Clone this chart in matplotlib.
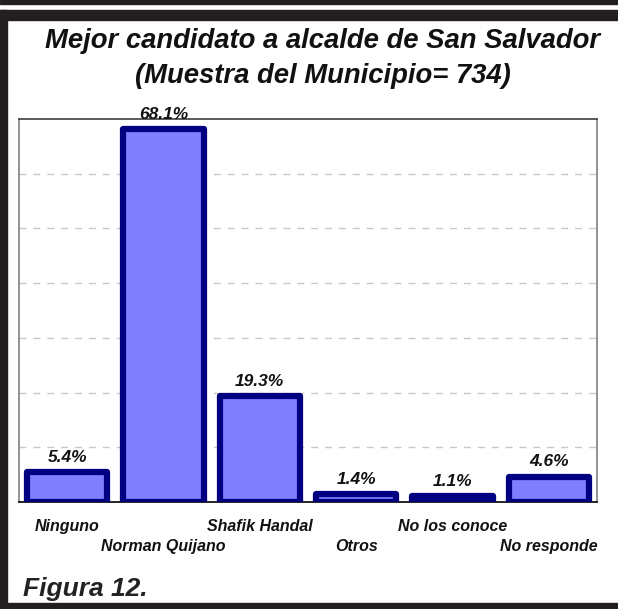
import matplotlib
matplotlib.use('Agg')
import matplotlib.pyplot as plt
from matplotlib.patches import Rectangle
from matplotlib.transforms import blended_transform_factory

categories = ['Ninguno', 'Norman Quijano', 'Shafik Handal', 'Otros', 'No los conoce', 'No responde']
values = [5.4, 68.1, 19.3, 1.4, 1.1, 4.6]
value_labels = ['5.4%', '68.1%', '19.3%', '1.4%', '1.1%', '4.6%']

FONT = 'Liberation Sans'
W, H = 618, 609
fig = plt.figure(figsize=(W / 100, H / 100), dpi=100, facecolor='white')
dark = '#231f20'
ink = '#111111'


# page frame, in pixel coords from the top-left
def px_rect(x0, y0, x1, y1, color):
    fig.patches.append(Rectangle((x0 / W, 1 - y1 / H), (x1 - x0) / W, (y1 - y0) / H,
                                 transform=fig.transFigure, color=color, zorder=0))


px_rect(0, 0, W, 4, dark)
px_rect(0, 10, W, 20, dark)
px_rect(0, 10, 7, H, dark)
px_rect(0, 603, W, H, dark)

ax = fig.add_axes([19 / W, 1 - 502 / H, (597 - 19) / W, (502 - 119) / H])
x = range(len(categories))
ax.bar(x, values, width=0.835, color='#8080ff', edgecolor='#000080', linewidth=4.5,
       joinstyle='round', zorder=3)
ax.set_xlim(-0.5, len(categories) - 0.5)
ax.set_ylim(0, 70)
ax.set_yticks(range(10, 70, 10))
ax.yaxis.grid(True, color='#c8c8c8', linestyle=(0, (5, 5)), linewidth=1)
ax.set_axisbelow(True)
ax.tick_params(left=False, bottom=False, labelleft=False, labelbottom=False)
for side in ['left', 'right']:
    ax.spines[side].set_color('#808080')
    ax.spines[side].set_linewidth(1.2)
ax.spines['top'].set_color('#404040')
ax.spines['top'].set_linewidth(1.2)
ax.spines['bottom'].set_color('#000000')
ax.spines['bottom'].set_linewidth(1.2)

for i, (v, lab) in enumerate(zip(values, value_labels)):
    ax.annotate(lab, (i, v), xytext=(0, 7.5), textcoords='offset points',
                ha='center', va='baseline', fontsize=12.5, fontweight='bold',
                fontstyle='italic', family=FONT, color=ink, zorder=5)

# category labels staggered on two rows (x in data, y in figure)
label_trans = blended_transform_factory(ax.transData, fig.transFigure)
for i, cat in enumerate(categories):
    base = 531 if i % 2 == 0 else 551
    fig.text(i, 1 - base / H, cat, ha='center', va='baseline', transform=label_trans,
             fontsize=11.5, fontweight='bold', fontstyle='italic', family=FONT, color=ink)

fig.text(323 / W, 1 - 48 / H, 'Mejor candidato a alcalde de San Salvador', ha='center',
         va='baseline', fontsize=19.8, fontweight='bold', fontstyle='italic', family=FONT,
         color=ink)
fig.text(323 / W, 1 - 83 / H, '(Muestra del Municipio= 734)', ha='center', va='baseline',
         fontsize=19.8, fontweight='bold', fontstyle='italic', family=FONT, color=ink)
fig.text(23 / W, 1 - 596 / H, 'Figura 12.', ha='left', va='baseline',
         fontsize=19, fontweight='bold', fontstyle='italic', family=FONT, color='#222222')

fig.savefig('out.png', dpi=100, facecolor='white')
